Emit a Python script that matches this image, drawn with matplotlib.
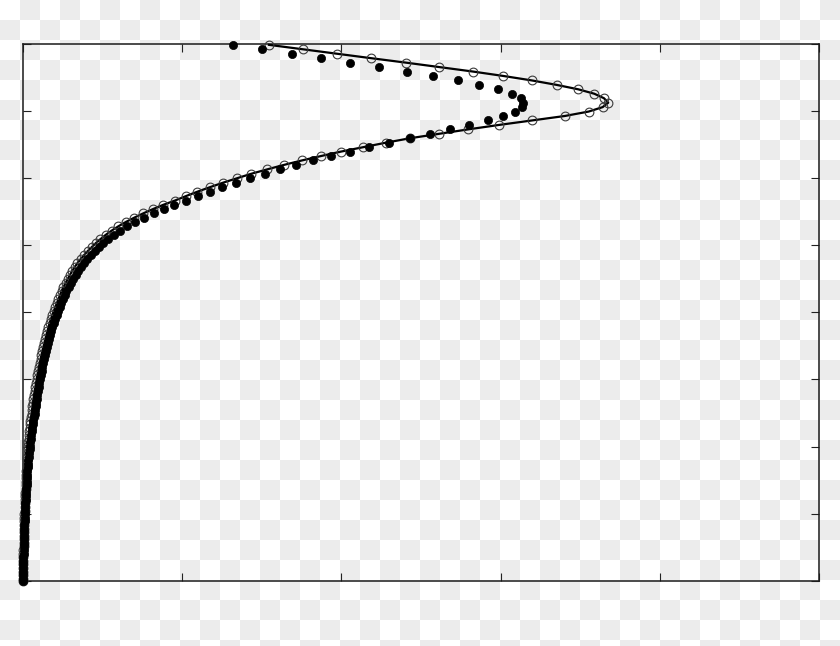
import numpy as np
import matplotlib
matplotlib.use("Agg")
import matplotlib.pyplot as plt

# ---- data (arbitrary units; no labels in the reference) ----
y_levels = [7.980, 7.914, 7.848, 7.781, 7.715, 7.649, 7.583, 7.517, 7.450, 7.384,
            7.318, 7.252, 7.186, 7.119, 7.053, 6.987, 6.921, 6.855, 6.788, 6.722,
            6.656, 6.590, 6.524, 6.457, 6.391, 6.325, 6.259, 6.193, 6.126, 6.060,
            5.994, 5.928, 5.862, 5.795, 5.729, 5.663,
            5.599, 5.535, 5.471, 5.407, 5.343, 5.279, 5.215, 5.151, 5.087,
            5.028, 4.968, 4.909, 4.849, 4.790, 4.730, 4.671, 4.611, 4.552, 4.492,
            4.433, 4.373, 4.314, 4.254, 4.195, 4.135, 4.076, 4.016, 3.957, 3.897,
            3.838, 3.778, 3.719, 3.659, 3.600, 3.540, 3.481, 3.421, 3.362, 3.302,
            3.243, 3.183, 3.124, 3.064, 3.005, 2.945, 2.886, 2.826, 2.767, 2.707,
            2.654, 2.600, 2.547, 2.493, 2.440, 2.386, 2.333, 2.279, 2.226, 2.172,
            2.119, 2.065, 2.012, 1.958, 1.905, 1.851, 1.798, 1.744, 1.691, 1.637,
            1.584, 1.530, 1.477, 1.423, 1.370, 1.316, 1.263, 1.209, 1.156, 1.102,
            1.049, 0.995, 0.942, 0.888, 0.835, 0.781, 0.728, 0.674, 0.621, 0.567,
            0.514, 0.460, 0.407, 0.353, 0.300, 0.246, 0.193, 0.139, 0.086, 0.032, 0.000]

model_x = [1.545, 1.757, 1.970, 2.188, 2.406, 2.615, 2.825, 3.017, 3.197, 3.352,
           3.488, 3.589, 3.649, 3.676, 3.641, 3.553, 3.403, 3.197, 2.990, 2.797,
           2.613, 2.431, 2.280, 2.136, 1.997, 1.872, 1.751, 1.639, 1.533, 1.432,
           1.344, 1.256, 1.175, 1.096, 1.024, 0.955,
           0.881, 0.816, 0.755, 0.698, 0.646, 0.599, 0.557, 0.519, 0.486,
           0.457, 0.431, 0.406, 0.383, 0.362, 0.342, 0.324, 0.308, 0.294, 0.280,
           0.267, 0.254, 0.242, 0.232, 0.222, 0.212, 0.202, 0.193, 0.184, 0.175,
           0.167, 0.160, 0.153, 0.146, 0.140, 0.134, 0.128, 0.121, 0.116, 0.110,
           0.105, 0.100, 0.095, 0.090, 0.086, 0.082, 0.077, 0.073, 0.069, 0.065,
           0.062, 0.059, 0.057, 0.054, 0.051, 0.047, 0.045, 0.042, 0.040, 0.038,
           0.036, 0.034, 0.032, 0.030, 0.029, 0.027, 0.025, 0.024, 0.023, 0.021,
           0.020, 0.019, 0.018, 0.017, 0.016, 0.015, 0.014, 0.013, 0.012, 0.011,
           0.010, 0.009, 0.009, 0.008, 0.007, 0.007, 0.006, 0.005, 0.005, 0.004,
           0.004, 0.003, 0.003, 0.002, 0.002, 0.002, 0.001, 0.001, 0.001, 0.000, 0.000]

measured_x = [1.319, 1.501, 1.688, 1.872, 2.056, 2.238, 2.414, 2.577, 2.734, 2.866,
              2.982, 3.070, 3.126, 3.143, 3.136, 3.089, 3.015, 2.919, 2.803, 2.684,
              2.557, 2.431, 2.299, 2.173, 2.054, 1.935, 1.822, 1.715, 1.614, 1.517,
              1.426, 1.338, 1.253, 1.175, 1.099, 1.027,
              0.950, 0.884, 0.820, 0.760, 0.705, 0.656, 0.611, 0.571, 0.536,
              0.505, 0.477, 0.451, 0.426, 0.403, 0.382, 0.362, 0.345, 0.330, 0.315,
              0.300, 0.286, 0.273, 0.262, 0.252, 0.241, 0.230, 0.221, 0.211, 0.201,
              0.193, 0.185, 0.177, 0.170, 0.164, 0.158, 0.151, 0.144, 0.139, 0.133,
              0.128, 0.122, 0.117, 0.112, 0.108, 0.103, 0.098, 0.094, 0.090, 0.085,
              0.082, 0.079, 0.076, 0.073, 0.069, 0.065, 0.062, 0.058, 0.055, 0.053,
              0.050, 0.047, 0.044, 0.041, 0.039, 0.037, 0.034, 0.032, 0.031, 0.028,
              0.027, 0.025, 0.023, 0.022, 0.020, 0.019, 0.018, 0.016, 0.015, 0.014,
              0.013, 0.012, 0.011, 0.010, 0.009, 0.009, 0.008, 0.007, 0.007, 0.006,
              0.005, 0.004, 0.004, 0.003, 0.003, 0.003, 0.002, 0.002, 0.002, 0.001, 0.001]

x_ticks = [0, 1, 2, 3, 4, 5]
y_ticks = [0, 1, 2, 3, 4, 5, 6, 7, 8]

# ---- figure ----
W, H, DPI = 840, 646, 100
fig = plt.figure(figsize=(W / DPI, H / DPI), dpi=DPI)
fig.patch.set_facecolor("white")

# checkerboard "transparency" backdrop
rows, cols = np.indices((H, W))
checker = ((rows // 20 + cols // 20) % 2).astype(float)
bg = np.where(checker[..., None] > 0, np.array([236, 236, 236]) / 255.0,
              np.array([255, 255, 255]) / 255.0)
fig.figimage(bg, xo=0, yo=0, origin="upper", zorder=-10)

ax = fig.add_axes([23 / W, 1 - 581 / H, (819 - 23) / W, (581 - 43.5) / H])
ax.set_facecolor("none")
ax.set_zorder(1)

ax.plot(model_x, y_levels, color="black", lw=1.6, zorder=3, clip_on=False)
ax.plot(model_x, y_levels, linestyle="none", marker="o", ms=6.3,
        mfc="none", mec="#3a3a3a", mew=0.8, zorder=4, clip_on=False)
ax.plot(measured_x, y_levels, linestyle="none", marker="o", ms=5.9,
        mfc="black", mec="black", mew=0.5, zorder=5, clip_on=False)

ax.set_xlim(0, 5)
ax.set_ylim(0, 8)
ax.set_xticks(x_ticks)
ax.set_yticks(y_ticks)
ax.tick_params(direction="in", length=6, width=0.8, color="#222222",
               top=True, right=True, bottom=True, left=True,
               labelbottom=False, labelleft=False)
for s in ax.spines.values():
    s.set_linewidth(1.1)
    s.set_color("#1a1a1a")

fig.savefig("out.png", dpi=DPI)
